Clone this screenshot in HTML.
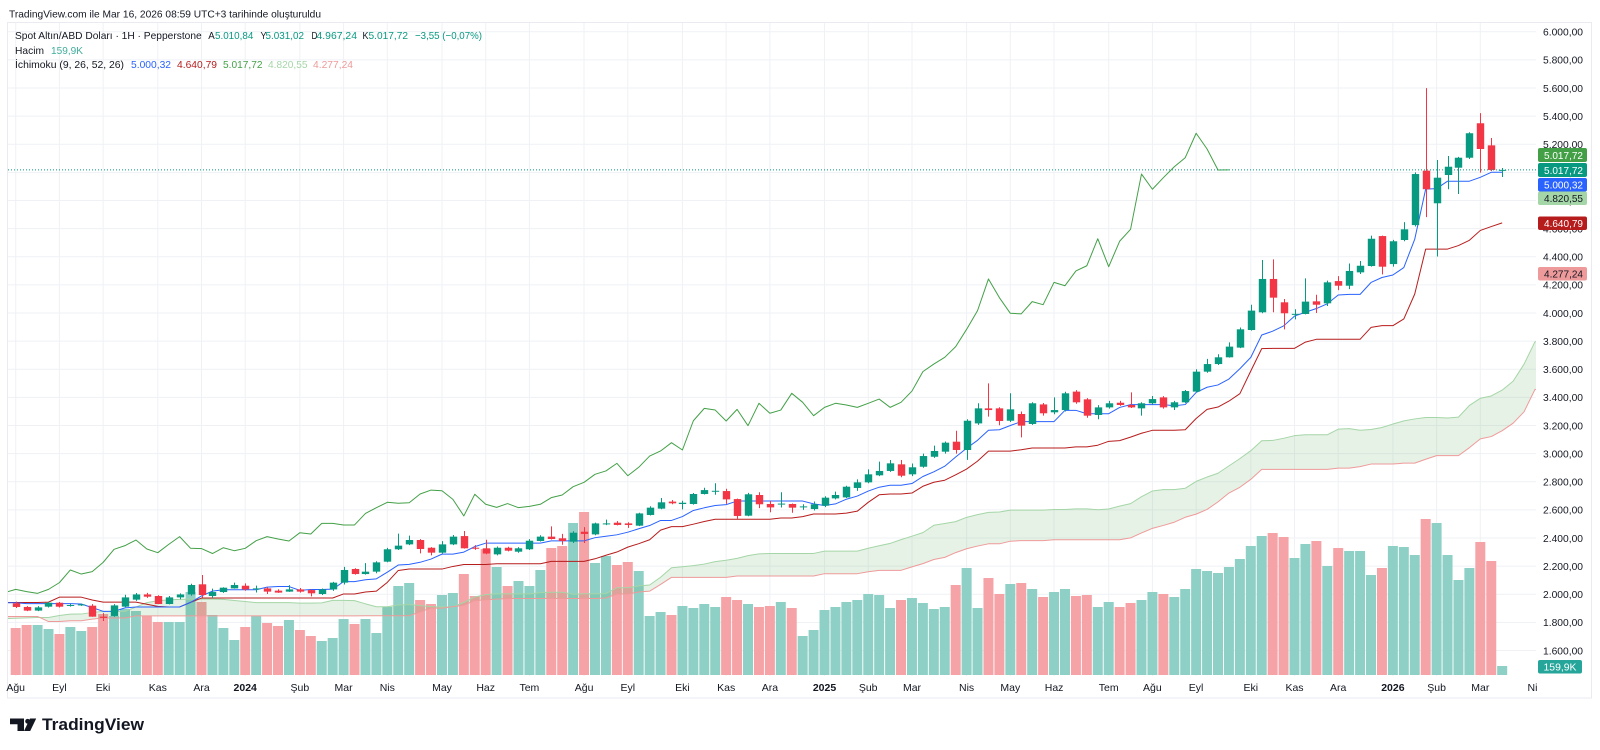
<!DOCTYPE html>
<html><head><meta charset="utf-8"><style>
html,body{margin:0;padding:0;background:#fff;overflow:hidden;}
svg{display:block;}
</style></head><body>
<svg id="svg" width="1600" height="750" viewBox="0 0 1600 750" xmlns="http://www.w3.org/2000/svg" font-family="'Liberation Sans', 'DejaVu Sans', sans-serif">
<defs><clipPath id="pc"><rect x="8" y="23" width="1528" height="653"/></clipPath></defs>
<rect width="1600" height="750" fill="#ffffff"/>
<text x="9" y="17.5" font-size="10.5" fill="#131722" textLength="312" lengthAdjust="spacingAndGlyphs">TradingView.com ile Mar 16, 2026 08:59 UTC+3 tarihinde oluşturuldu</text>
<rect x="7.5" y="22.5" width="1584" height="675.5" fill="none" stroke="#e9ebf0" stroke-width="1"/>
<g id="plot" clip-path="url(#pc)"></g>

<!-- legend -->
<g font-size="10.5" lengthAdjust="spacingAndGlyphs">
<text x="15" y="39" fill="#131722" textLength="186.7" lengthAdjust="spacingAndGlyphs">Spot Altın/ABD Doları · 1H · Pepperstone</text>
<text x="208.3" y="39" fill="#131722" textLength="6.5" lengthAdjust="spacingAndGlyphs">A</text>
<text x="215" y="39" fill="#089981" textLength="38.3" lengthAdjust="spacingAndGlyphs">5.010,84</text>
<text x="260.5" y="39" fill="#131722" textLength="6" lengthAdjust="spacingAndGlyphs">Y</text>
<text x="265.5" y="39" fill="#089981" textLength="38.5" lengthAdjust="spacingAndGlyphs">5.031,02</text>
<text x="311.5" y="39" fill="#131722" textLength="6" lengthAdjust="spacingAndGlyphs">D</text>
<text x="316.5" y="39" fill="#089981" textLength="40.5" lengthAdjust="spacingAndGlyphs">4.967,24</text>
<text x="362.5" y="39" fill="#131722" textLength="6" lengthAdjust="spacingAndGlyphs">K</text>
<text x="368.5" y="39" fill="#089981" textLength="39.5" lengthAdjust="spacingAndGlyphs">5.017,72</text>
<text x="415" y="39" fill="#089981" textLength="67" lengthAdjust="spacingAndGlyphs">−3,55 (−0,07%)</text>
<text x="15" y="53.8" fill="#131722" textLength="29" lengthAdjust="spacingAndGlyphs">Hacim</text>
<text x="51" y="53.8" fill="#3fae9c" textLength="32" lengthAdjust="spacingAndGlyphs">159,9K</text>
<text x="15" y="67.8" fill="#131722" textLength="109" lengthAdjust="spacingAndGlyphs">İchimoku (9, 26, 52, 26)</text>
<text x="131" y="67.8" fill="#2962ff" textLength="40" lengthAdjust="spacingAndGlyphs">5.000,32</text>
<text x="177" y="67.8" fill="#b71c1c" textLength="40" lengthAdjust="spacingAndGlyphs">4.640,79</text>
<text x="223" y="67.8" fill="#43a047" textLength="39.5" lengthAdjust="spacingAndGlyphs">5.017,72</text>
<text x="268" y="67.8" fill="#a5d6a7" textLength="39.5" lengthAdjust="spacingAndGlyphs">4.820,55</text>
<text x="313" y="67.8" fill="#ef9a9a" textLength="40" lengthAdjust="spacingAndGlyphs">4.277,24</text>
</g>

<!-- price axis -->
<g font-size="10.5" fill="#131722">
<text x="1543" y="35.5" textLength="40" lengthAdjust="spacingAndGlyphs">6.000,00</text>
<text x="1543" y="63.6" textLength="40" lengthAdjust="spacingAndGlyphs">5.800,00</text>
<text x="1543" y="91.8" textLength="40" lengthAdjust="spacingAndGlyphs">5.600,00</text>
<text x="1543" y="119.9" textLength="40" lengthAdjust="spacingAndGlyphs">5.400,00</text>
<text x="1543" y="148.0" textLength="40" lengthAdjust="spacingAndGlyphs">5.200,00</text>
<text x="1543" y="176.2" textLength="40" lengthAdjust="spacingAndGlyphs">5.000,00</text>
<text x="1543" y="204.3" textLength="40" lengthAdjust="spacingAndGlyphs">4.800,00</text>
<text x="1543" y="232.4" textLength="40" lengthAdjust="spacingAndGlyphs">4.600,00</text>
<text x="1543" y="260.5" textLength="40" lengthAdjust="spacingAndGlyphs">4.400,00</text>
<text x="1543" y="288.7" textLength="40" lengthAdjust="spacingAndGlyphs">4.200,00</text>
<text x="1543" y="316.8" textLength="40" lengthAdjust="spacingAndGlyphs">4.000,00</text>
<text x="1543" y="344.9" textLength="40" lengthAdjust="spacingAndGlyphs">3.800,00</text>
<text x="1543" y="373.1" textLength="40" lengthAdjust="spacingAndGlyphs">3.600,00</text>
<text x="1543" y="401.2" textLength="40" lengthAdjust="spacingAndGlyphs">3.400,00</text>
<text x="1543" y="429.3" textLength="40" lengthAdjust="spacingAndGlyphs">3.200,00</text>
<text x="1543" y="457.5" textLength="40" lengthAdjust="spacingAndGlyphs">3.000,00</text>
<text x="1543" y="485.6" textLength="40" lengthAdjust="spacingAndGlyphs">2.800,00</text>
<text x="1543" y="513.7" textLength="40" lengthAdjust="spacingAndGlyphs">2.600,00</text>
<text x="1543" y="541.8" textLength="40" lengthAdjust="spacingAndGlyphs">2.400,00</text>
<text x="1543" y="570.0" textLength="40" lengthAdjust="spacingAndGlyphs">2.200,00</text>
<text x="1543" y="598.1" textLength="40" lengthAdjust="spacingAndGlyphs">2.000,00</text>
<text x="1543" y="626.2" textLength="40" lengthAdjust="spacingAndGlyphs">1.800,00</text>
<text x="1543" y="654.4" textLength="40" lengthAdjust="spacingAndGlyphs">1.600,00</text>
</g>

<!-- price axis value badges -->
<g font-size="10.5">
<rect x="1538" y="148" width="49" height="14" rx="2" fill="#43a047"/>
<text x="1544" y="158.8" fill="#ffffff" textLength="39" lengthAdjust="spacingAndGlyphs">5.017,72</text>
<rect x="1538" y="163" width="49" height="14" rx="2" fill="#089981"/>
<text x="1544" y="173.8" fill="#ffffff" textLength="39" lengthAdjust="spacingAndGlyphs">5.017,72</text>
<rect x="1538" y="178" width="49" height="13.5" rx="2" fill="#2962ff"/>
<text x="1544" y="188.6" fill="#ffffff" textLength="39" lengthAdjust="spacingAndGlyphs">5.000,32</text>
<rect x="1538" y="191.5" width="49" height="13.5" rx="2" fill="#a5d6a7"/>
<text x="1544" y="202.1" fill="#131722" textLength="39" lengthAdjust="spacingAndGlyphs">4.820,55</text>
<rect x="1538" y="216.5" width="49" height="13.5" rx="2" fill="#b71c1c"/>
<text x="1544" y="227.1" fill="#ffffff" textLength="39" lengthAdjust="spacingAndGlyphs">4.640,79</text>
<rect x="1538" y="267" width="49" height="13.5" rx="2" fill="#ef9a9a"/>
<text x="1544" y="277.6" fill="#131722" textLength="39" lengthAdjust="spacingAndGlyphs">4.277,24</text>
<rect x="1538" y="660" width="44" height="13.5" rx="2" fill="#26a69a"/>
<text x="1543.5" y="670.6" fill="#ffffff" textLength="33" lengthAdjust="spacingAndGlyphs">159,9K</text>
</g>

<!-- time axis -->
<g font-size="10.5" fill="#131722" text-anchor="middle">
<text x="15.7" y="691">Ağu</text>
<text x="59.4" y="691">Eyl</text>
<text x="103.1" y="691">Eki</text>
<text x="157.8" y="691">Kas</text>
<text x="201.5" y="691">Ara</text>
<text x="245.2" y="691" font-weight="700">2024</text>
<text x="299.9" y="691">Şub</text>
<text x="343.6" y="691">Mar</text>
<text x="387.3" y="691">Nis</text>
<text x="442.0" y="691">May</text>
<text x="485.7" y="691">Haz</text>
<text x="529.4" y="691">Tem</text>
<text x="584.1" y="691">Ağu</text>
<text x="627.8" y="691">Eyl</text>
<text x="682.4" y="691">Eki</text>
<text x="726.2" y="691">Kas</text>
<text x="769.9" y="691">Ara</text>
<text x="824.5" y="691" font-weight="700">2025</text>
<text x="868.2" y="691">Şub</text>
<text x="912.0" y="691">Mar</text>
<text x="966.6" y="691">Nis</text>
<text x="1010.3" y="691">May</text>
<text x="1054.1" y="691">Haz</text>
<text x="1108.7" y="691">Tem</text>
<text x="1152.4" y="691">Ağu</text>
<text x="1196.1" y="691">Eyl</text>
<text x="1250.8" y="691">Eki</text>
<text x="1294.5" y="691">Kas</text>
<text x="1338.2" y="691">Ara</text>
<text x="1392.9" y="691" font-weight="700">2026</text>
<text x="1436.6" y="691">Şub</text>
<text x="1480.3" y="691">Mar</text>
<text x="1532.5" y="691">Ni</text>
</g>

<!-- logo -->
<g fill="#131722">
<path d="M10 718.5 H24 V731 H17.5 V724.2 H10 Z"/>
<circle cx="27.6" cy="721.3" r="2.4"/>
<polygon points="30,718.5 36.2,718.5 30.2,731 24,731"/>
</g>
<text x="42" y="730" font-size="16.5" font-weight="700" fill="#131722" textLength="102" lengthAdjust="spacingAndGlyphs">TradingView</text>
</svg>

<script>
(function(){
var NS='http://www.w3.org/2000/svg';
var g=document.getElementById('plot');
function el(tag,a,parent){var e=document.createElementNS(NS,tag);for(var k in a)e.setAttribute(k,a[k]);(parent||g).appendChild(e);return e;}
function X(i){return 15.7+i*10.93;}
function Y(p){return 31.7+(6000-p)*0.14065;}

var prior=[[1880,1820],[1902,1850],[1974,1878],[1974,1890],[2070,1958],[1990,1895],[1966,1910],[1950,1890],[1950,1915],[1998,1945],[1998,1930],[1936,1872],[1910,1850],[1884,1798],[1849,1787],[1870,1844],[1874,1828],[1875,1825],[1879,1805],[1848,1816],[1835,1784],[1812,1732],[1745,1697],[1739,1681],[1768,1711],[1795,1754],[1807,1771],[1786,1727],[1765,1720],[1740,1688],[1735,1691],[1735,1654],[1688,1639],[1675,1615],[1729,1659],[1683,1640],[1668,1617],[1675,1633],[1684,1616],[1787,1670],[1786,1747],[1760,1725],[1804,1745],[1808,1766],[1824,1773],[1833,1785],[1833,1794],[1870,1833],[1922,1865],[1937,1896],[1949,1911],[1960,1861],[1890,1853],[1863,1818],[1846,1805],[1858,1804],[1870,1810],[1989,1880],[2009,1934],[1989,1949],[2032,1949],[2048,1992],[2015,1970],[2009,1974],[2079,1975],[2048,2003],[2019,1952],[1985,1937],[1983,1932],[1972,1939],[1971,1924],[1946,1910],[1934,1893],[1935,1902],[1963,1922],[1987,1951],[1982,1942],[1970,1929]];

var bars=[[1936,1948,1903,1910],[1910,1916,1880,1884],[1884,1916,1880,1907],[1912,1947,1906,1940],[1940,1945,1906,1912],[1920,1932,1912,1924],[1926,1935,1918,1928],[1919,1930,1840,1841],[1841,1866,1810,1832],[1846,1930,1840,1921],
[1912,1997,1908,1978],[1962,2009,1953,1999],[1999,2010,1975,1983],[1988,1993,1930,1931],[1931,1988,1928,1978],[1978,2007,1965,1999],[1999,2075,1990,2066],[2071,2137,1975,1995],[1988,2040,1973,2016],[2016,2050,2010,2047],
[2042,2083,2040,2066],[2061,2078,2025,2035],[2040,2062,2013,2042],[2042,2050,2002,2019],[2026,2036,2010,2012],[2019,2065,2017,2035],[2035,2045,2012,2019],[2030,2035,1985,2007],[2002,2041,1995,2035],[2035,2088,2024,2083],
[2083,2195,2070,2173],[2180,2185,2140,2144],[2144,2222,2140,2161],[2161,2235,2150,2227],[2232,2330,2228,2320],[2320,2431,2315,2346],[2355,2417,2350,2386],[2386,2392,2291,2322],[2331,2335,2277,2296],[2296,2378,2290,2355],
[2355,2422,2350,2410],[2414,2450,2325,2327],[2331,2350,2316,2325],[2327,2388,2285,2290],[2284,2340,2277,2331],[2331,2338,2305,2310],[2303,2335,2295,2327],[2320,2392,2315,2381],[2379,2420,2375,2410],[2410,2483,2390,2393],
[2398,2430,2352,2379],[2374,2448,2365,2438],[2445,2478,2365,2429],[2426,2510,2420,2504],[2500,2531,2492,2504],[2509,2520,2490,2493],[2504,2512,2472,2493],[2488,2580,2485,2575],[2564,2626,2560,2616],[2609,2685,2605,2654],
[2659,2670,2640,2647],[2642,2665,2604,2651],[2642,2720,2638,2713],[2713,2758,2710,2741],[2734,2790,2708,2736],[2734,2750,2643,2675],[2677,2680,2536,2557],[2559,2721,2555,2711],[2706,2726,2613,2640],[2642,2663,2583,2618],
[2640,2726,2617,2645],[2642,2646,2580,2616],[2620,2640,2600,2625],[2606,2660,2596,2640],[2630,2697,2620,2687],[2682,2730,2675,2706],[2689,2772,2685,2765],[2756,2817,2735,2796],[2796,2888,2790,2853],[2846,2943,2840,2877],
[2877,2955,2870,2931],[2924,2955,2832,2843],[2853,2930,2840,2903],[2907,3000,2900,2983],[2978,3057,2970,3019],[3014,3086,3000,3078],[3085,3163,3000,3026],[3026,3245,2956,3234],[3215,3358,3205,3322],[3322,3500,3263,3310],
[3322,3330,3202,3232],[3234,3429,3225,3315],[3282,3300,3116,3199],[3211,3365,3205,3358],[3350,3360,3270,3287],[3294,3400,3280,3310],[3310,3440,3300,3429],[3441,3452,3355,3365],[3386,3395,3255,3270],[3275,3345,3245,3329],
[3329,3375,3320,3358],[3362,3375,3340,3346],[3346,3436,3325,3329],[3322,3365,3270,3358],[3358,3410,3350,3388],[3400,3409,3320,3329],[3329,3375,3310,3365],[3365,3453,3360,3445],[3441,3600,3435,3583],[3583,3674,3575,3637],
[3637,3707,3630,3685],[3685,3791,3682.5,3761],[3754,3897,3750,3884],[3879,4059,3875,4017],[4005,4377,3998,4242],[4242,4381,4005,4109],[4076,4100,3884,3998],[3993,4027,3955,3994],[3993,4246,3990,4081],[4083,4130,4000,4059],
[4069,4230,4050,4218],[4227,4262,4163,4194],[4194,4352,4170,4299],[4289,4370,4277,4336],[4334,4550,4330,4528],[4547,4550,4275,4329],[4348,4520,4330,4510],[4519,4646,4510,4595],[4625,5000,4615,4988],[5012,5599,4682,4880],
[4780,5088,4401.6,4962],[4981,5116,4880,5040],[5033,5110,4846,5104],[5104,5285,5095,5278],[5349,5421,4998,5166],[5192,5244,5010,5017],[5010.84,5031.02,4967.24,5017.72]];

var vtop=[628,625,625,629,634,627,631,627,614,616,
609,611,616,622,622,622,592,602,615,628,
640,627,616,623,626,620,630,636,641,638,
619,624,619,633,607,586,583,600,604,595,
593,574,596,549,567,586,581,586,570,548,
546,523,512,563,556,565,562,571,616,612,
615,606,608,604,607,597,600,604,607,606,
602,608,636,630,610,607,602,600,594,595,
608,600,598,603,609,607,585,568,608,578,
594,584,583,589,597,592,589,596,595,607,
602,607,603,600,592,594,597,589,569,571,
573,567,559,546,536,533,537,558,544,541,
566,548,551,551,575,568,546,547,555,519,
523,555,580,568,542,561,666];

var N0=prior.length;
var H=[],L=[];
prior.forEach(function(p){H.push(p[0]);L.push(p[1]);});
bars.forEach(function(b){H.push(b[1]);L.push(b[2]);});
function mid(i,n){var hi=-1e9,lo=1e9;for(var j=i-n+1;j<=i;j++){var k=j+N0;if(k<0)k=0;if(H[k]>hi)hi=H[k];if(L[k]<lo)lo=L[k];}return (hi+lo)/2;}

// grid
var gg=el('g',{stroke:'#eff1f5','stroke-width':1});
for(var k=0;k<=22;k++){var y=31.7+k*28.13;el('line',{x1:8,x2:1536,y1:y,y2:y},gg);}
[0,4,8,13,17,21,26,30,34,39,43,47,52,56,61,65,69,74,78,82,87,91,95,100,104,108,113,117,121,126,130,134].forEach(function(i){var x=X(i);el('line',{x1:x,x2:x,y1:23,y2:676},gg);});

// volume
var gv=el('g',{});
bars.forEach(function(b,i){
  var up=b[3]>=b[0];
  el('rect',{x:(X(i)-5).toFixed(2),y:vtop[i],width:10,height:(675-vtop[i]),fill:up?'#8fd0c6':'#f5a3a6'},gv);
});

// ichimoku
var A={},B={};
for(var k=-1;k<=141;k++){var i=k-25;A[k]=(mid(i,9)+mid(i,26))/2;B[k]=mid(i,52);}
var gc=el('g',{opacity:0.13});
for(var k=-1;k<=140;k++){
  var green=(A[k]+A[k+1])>=(B[k]+B[k+1]);
  var col=green?'#43a047':'#f44336';
  var pts=[X(k)+','+Y(A[k]),X(k+1)+','+Y(A[k+1]),X(k+1)+','+Y(B[k+1]),X(k)+','+Y(B[k])].join(' ');
  el('polygon',{points:pts,fill:col,stroke:col,'stroke-width':0.6},gc);
}
function poly(arr,color){el('polyline',{points:arr.join(' '),fill:'none',stroke:color,'stroke-width':1,'stroke-linejoin':'round'});}
var pa=[],pb=[];
for(var k=-1;k<=141;k++){pa.push(X(k).toFixed(2)+','+Y(A[k]).toFixed(2));pb.push(X(k).toFixed(2)+','+Y(B[k]).toFixed(2));}
poly(pa,'#a5d6a7');poly(pb,'#ef9a9a');
var pc=[];
for(var k=-1;k<=111;k++){pc.push(X(k).toFixed(2)+','+Y(bars[k+25][3]).toFixed(2));}
poly(pc,'#43a047');
var pk=[],pt=[];
for(var i=-1;i<bars.length;i++){pk.push(X(i).toFixed(2)+','+Y(mid(i,26)).toFixed(2));pt.push(X(i).toFixed(2)+','+Y(mid(i,9)).toFixed(2));}
poly(pk,'#b71c1c');poly(pt,'#2962ff');

// candles
var gk=el('g',{});
bars.forEach(function(b,i){
  var up=b[3]>=b[0];var col=up?'#089981':'#f23645';
  var x=Math.round(X(i))+0.5;
  el('line',{x1:x,x2:x,y1:Y(b[1]).toFixed(2),y2:Y(b[2]).toFixed(2),stroke:col,'stroke-width':1},gk);
  var yt=Y(Math.max(b[0],b[3])),yb=Y(Math.min(b[0],b[3]));
  var h=Math.max(1,yb-yt);
  el('rect',{x:(x-3.7).toFixed(2),y:yt.toFixed(2),width:7.4,height:h.toFixed(2),fill:col},gk);
});

// price line
var yp=Y(5017.72);
el('line',{x1:8,x2:1536,y1:yp,y2:yp,stroke:'#089981','stroke-width':1,'stroke-dasharray':'1,2'});
})();
</script>
</body></html>
